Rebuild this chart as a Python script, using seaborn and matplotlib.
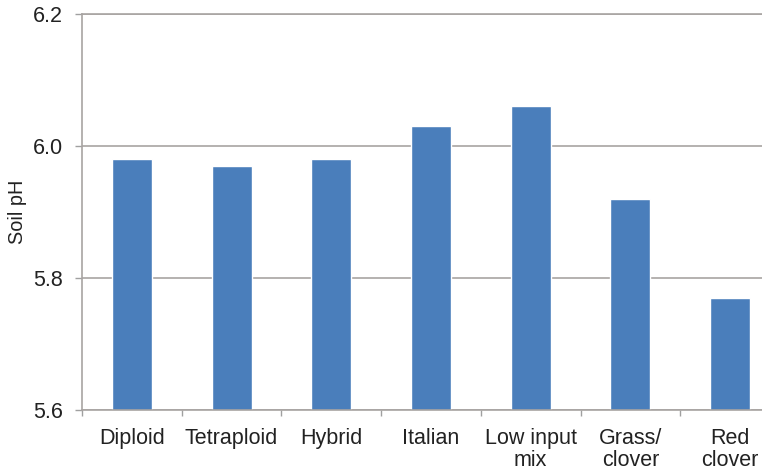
import numpy as np
import pandas as pd
import matplotlib
matplotlib.use('Agg')
import matplotlib.pyplot as plt
import seaborn as sns
from matplotlib.ticker import FixedLocator

# Values
categories = ['Diploid', 'Tetraploid', 'Hybrid', 'Italian', 'Low input\nmix', 'Grass/\nclover', 'Red\nclover']
soil_ph = [5.98, 5.97, 5.98, 6.03, 6.06, 5.92, 5.77]
y_ticks = [5.6, 5.8, 6.0, 6.2]

df = pd.DataFrame({'mix': categories, 'ph': soil_ph})

sns.set_style('white')
plt.rcParams['font.family'] = ['Liberation Sans', 'DejaVu Sans']

fig = plt.figure(figsize=(7.62, 4.73), dpi=100)
# right edge of the plot runs off the picture, as in the original
ax = fig.add_axes([82 / 762, 63 / 473, 698 / 762, 396 / 473])

sns.barplot(data=df, x='mix', y='ph', color='#4a7ebb', saturation=1, width=0.4, ax=ax)

ax.set_ylim(5.6, 6.2)
ax.set_xlim(-0.5, len(categories) - 0.5)
ax.set_yticks(y_ticks)
ax.set_yticklabels([f'{v:.1f}' for v in y_ticks], fontsize=15.5, color='#222222')
ax.tick_params(axis='y', length=5, width=1, color='#a0a0a0', pad=9, left=True)

ax.tick_params(axis='x', which='major', length=0, pad=13, labelsize=15.5, labelcolor='#222222')
for lbl in ax.get_xticklabels():
    lbl.set_linespacing(1.05)
ax.xaxis.set_minor_locator(FixedLocator(np.arange(-0.5, len(categories), 1)))
ax.tick_params(axis='x', which='minor', length=4, width=1, color='#a0a0a0', bottom=True)

ax.yaxis.grid(True, color='#a8a4a2', linewidth=1.2)
ax.set_axisbelow(True)

for side in ['left', 'bottom', 'top']:
    ax.spines[side].set_color('#a8a4a2')
    ax.spines[side].set_linewidth(1.2)
ax.spines['right'].set_visible(False)

ax.set_xlabel('')
ax.set_ylabel('Soil pH', fontsize=14.3, labelpad=4, color='#222222')

fig.savefig('out.png', dpi=100)
